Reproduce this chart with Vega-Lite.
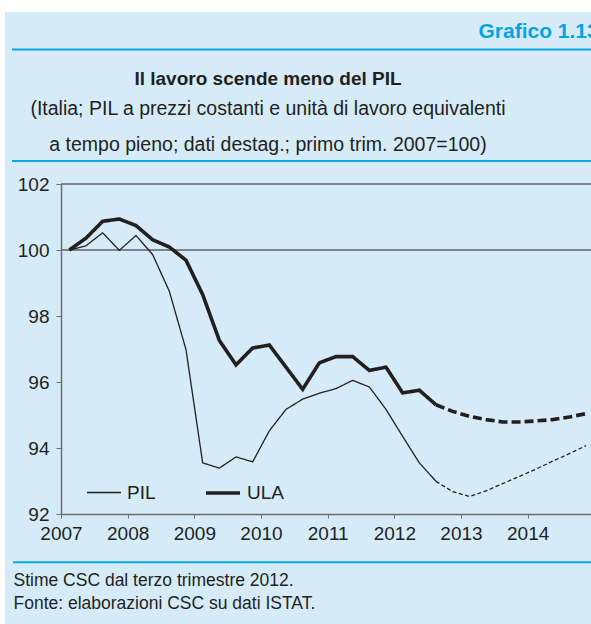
{
  "$schema": "https://vega.github.io/schema/vega-lite/v6.json",
  "width": 530,
  "height": 330,
  "autosize": {"type": "none"},
  "padding": {"left": 61, "top": 184, "right": 0, "bottom": 110},
  "background": "#ffffff",
  "config": {"view": {"stroke": null}, "font": "Liberation Sans"},
  "title": {
    "text": "Il lavoro scende meno del PIL",
    "subtitle": ["(Italia; PIL a prezzi costanti e unità di lavoro equivalenti", "a tempo pieno; dati destag.; primo trim. 2007=100)"],
    "anchor": "middle",
    "frame": "group",
    "dx": -58,
    "offset": -142,
    "font": "Liberation Sans",
    "fontSize": 19,
    "fontWeight": "bold",
    "color": "#231f20",
    "subtitleFont": "Liberation Sans",
    "subtitleFontSize": 19.5,
    "subtitleColor": "#231f20",
    "subtitleLineHeight": 36,
    "subtitlePadding": 11
  },
  "datasets": {
    "serie": [
      {"serie": "PIL", "tratto": "dati", "periodo": 2007.125, "valore": 100.0},
      {"serie": "PIL", "tratto": "dati", "periodo": 2007.375, "valore": 100.13},
      {"serie": "PIL", "tratto": "dati", "periodo": 2007.625, "valore": 100.52},
      {"serie": "PIL", "tratto": "dati", "periodo": 2007.875, "valore": 99.99},
      {"serie": "PIL", "tratto": "dati", "periodo": 2008.125, "valore": 100.44},
      {"serie": "PIL", "tratto": "dati", "periodo": 2008.375, "valore": 99.86},
      {"serie": "PIL", "tratto": "dati", "periodo": 2008.625, "valore": 98.75},
      {"serie": "PIL", "tratto": "dati", "periodo": 2008.875, "valore": 96.98},
      {"serie": "PIL", "tratto": "dati", "periodo": 2009.125, "valore": 93.55},
      {"serie": "PIL", "tratto": "dati", "periodo": 2009.375, "valore": 93.39},
      {"serie": "PIL", "tratto": "dati", "periodo": 2009.625, "valore": 93.73},
      {"serie": "PIL", "tratto": "dati", "periodo": 2009.875, "valore": 93.58},
      {"serie": "PIL", "tratto": "dati", "periodo": 2010.125, "valore": 94.52},
      {"serie": "PIL", "tratto": "dati", "periodo": 2010.375, "valore": 95.17},
      {"serie": "PIL", "tratto": "dati", "periodo": 2010.625, "valore": 95.48},
      {"serie": "PIL", "tratto": "dati", "periodo": 2010.875, "valore": 95.66},
      {"serie": "PIL", "tratto": "dati", "periodo": 2011.125, "valore": 95.80},
      {"serie": "PIL", "tratto": "dati", "periodo": 2011.375, "valore": 96.05},
      {"serie": "PIL", "tratto": "dati", "periodo": 2011.625, "valore": 95.85},
      {"serie": "PIL", "tratto": "dati", "periodo": 2011.875, "valore": 95.17},
      {"serie": "PIL", "tratto": "dati", "periodo": 2012.125, "valore": 94.35},
      {"serie": "PIL", "tratto": "dati", "periodo": 2012.375, "valore": 93.55},
      {"serie": "PIL", "tratto": "dati", "periodo": 2012.625, "valore": 92.99},
      {"serie": "PIL", "tratto": "stime", "periodo": 2012.625, "valore": 92.99},
      {"serie": "PIL", "tratto": "stime", "periodo": 2012.875, "valore": 92.68},
      {"serie": "PIL", "tratto": "stime", "periodo": 2013.125, "valore": 92.53},
      {"serie": "PIL", "tratto": "stime", "periodo": 2013.375, "valore": 92.70},
      {"serie": "PIL", "tratto": "stime", "periodo": 2013.625, "valore": 92.92},
      {"serie": "PIL", "tratto": "stime", "periodo": 2013.875, "valore": 93.14},
      {"serie": "PIL", "tratto": "stime", "periodo": 2014.125, "valore": 93.36},
      {"serie": "PIL", "tratto": "stime", "periodo": 2014.375, "valore": 93.60},
      {"serie": "PIL", "tratto": "stime", "periodo": 2014.625, "valore": 93.83},
      {"serie": "PIL", "tratto": "stime", "periodo": 2014.875, "valore": 94.07},
      {"serie": "ULA", "tratto": "dati", "periodo": 2007.125, "valore": 100.0},
      {"serie": "ULA", "tratto": "dati", "periodo": 2007.375, "valore": 100.36},
      {"serie": "ULA", "tratto": "dati", "periodo": 2007.625, "valore": 100.87},
      {"serie": "ULA", "tratto": "dati", "periodo": 2007.875, "valore": 100.94},
      {"serie": "ULA", "tratto": "dati", "periodo": 2008.125, "valore": 100.74},
      {"serie": "ULA", "tratto": "dati", "periodo": 2008.375, "valore": 100.31},
      {"serie": "ULA", "tratto": "dati", "periodo": 2008.625, "valore": 100.09},
      {"serie": "ULA", "tratto": "dati", "periodo": 2008.875, "valore": 99.69},
      {"serie": "ULA", "tratto": "dati", "periodo": 2009.125, "valore": 98.65},
      {"serie": "ULA", "tratto": "dati", "periodo": 2009.375, "valore": 97.26},
      {"serie": "ULA", "tratto": "dati", "periodo": 2009.625, "valore": 96.52},
      {"serie": "ULA", "tratto": "dati", "periodo": 2009.875, "valore": 97.03},
      {"serie": "ULA", "tratto": "dati", "periodo": 2010.125, "valore": 97.12},
      {"serie": "ULA", "tratto": "dati", "periodo": 2010.375, "valore": 96.45},
      {"serie": "ULA", "tratto": "dati", "periodo": 2010.625, "valore": 95.78},
      {"serie": "ULA", "tratto": "dati", "periodo": 2010.875, "valore": 96.58},
      {"serie": "ULA", "tratto": "dati", "periodo": 2011.125, "valore": 96.77},
      {"serie": "ULA", "tratto": "dati", "periodo": 2011.375, "valore": 96.77},
      {"serie": "ULA", "tratto": "dati", "periodo": 2011.625, "valore": 96.35},
      {"serie": "ULA", "tratto": "dati", "periodo": 2011.875, "valore": 96.45},
      {"serie": "ULA", "tratto": "dati", "periodo": 2012.125, "valore": 95.67},
      {"serie": "ULA", "tratto": "dati", "periodo": 2012.375, "valore": 95.75},
      {"serie": "ULA", "tratto": "dati", "periodo": 2012.625, "valore": 95.31},
      {"serie": "ULA", "tratto": "stime", "periodo": 2012.625, "valore": 95.31},
      {"serie": "ULA", "tratto": "stime", "periodo": 2012.875, "valore": 95.11},
      {"serie": "ULA", "tratto": "stime", "periodo": 2013.125, "valore": 94.96},
      {"serie": "ULA", "tratto": "stime", "periodo": 2013.375, "valore": 94.86},
      {"serie": "ULA", "tratto": "stime", "periodo": 2013.625, "valore": 94.79},
      {"serie": "ULA", "tratto": "stime", "periodo": 2013.875, "valore": 94.79},
      {"serie": "ULA", "tratto": "stime", "periodo": 2014.125, "valore": 94.82},
      {"serie": "ULA", "tratto": "stime", "periodo": 2014.375, "valore": 94.86},
      {"serie": "ULA", "tratto": "stime", "periodo": 2014.625, "valore": 94.94},
      {"serie": "ULA", "tratto": "stime", "periodo": 2014.875, "valore": 95.04}
    ],
    "riferimenti": [{"valore": 100}, {"valore": 102}]
  },
  "layer": [
    {
      "data": {"values": [{"elemento": "sfondo"}]},
      "mark": {"type": "rect", "fill": "#d5ebf8"},
      "encoding": {"x": {"value": -56}, "x2": {"value": 530}, "y": {"value": -172}, "y2": {"value": 440}}
    },
    {
      "data": {"values": [{"elemento": "linea1"}]},
      "mark": {"type": "rule", "stroke": "#0aa7e6", "strokeWidth": 2.2},
      "encoding": {"x": {"value": -49}, "x2": {"value": 530}, "y": {"value": -134.5}}
    },
    {
      "data": {"values": [{"elemento": "linea2"}]},
      "mark": {"type": "rule", "stroke": "#0aa7e6", "strokeWidth": 2},
      "encoding": {"x": {"value": -49}, "x2": {"value": 530}, "y": {"value": -23}}
    },
    {
      "data": {"values": [{"elemento": "linea3"}]},
      "mark": {"type": "rule", "stroke": "#0aa7e6", "strokeWidth": 2},
      "encoding": {"x": {"value": -48}, "x2": {"value": 530}, "y": {"value": 378.3}}
    },
    {
      "data": {"name": "riferimenti"},
      "mark": {"type": "rule", "stroke": "#231f20", "strokeWidth": 1.2},
      "encoding": {"y": {"field": "valore", "type": "quantitative"}}
    },
    {
      "data": {"name": "serie"},
      "transform": [{"filter": "datum.serie === 'PIL'"}],
      "mark": {"type": "line", "color": "#231f20"},
      "encoding": {
        "x": {
          "field": "periodo", "type": "quantitative",
          "scale": {"domain": [2007, 2014.95], "nice": false, "zero": false},
          "axis": {
            "values": [2007, 2008, 2009, 2010, 2011, 2012, 2013, 2014],
            "format": "d",
            "grid": false,
            "labelFont": "Liberation Sans", "labelFontSize": 19, "labelColor": "#231f20",
            "labelPadding": 6.5, "labelFlush": false, "labelOverlap": false,
            "tickSize": 4, "tickColor": "#6d6e71", "domainColor": "#6d6e71", "domainWidth": 1.5,
            "title": ["Stime CSC dal terzo trimestre 2012.", "Fonte: elaborazioni CSC su dati ISTAT."],
            "titleFont": "Liberation Sans", "titleFontSize": 17.5, "titleFontWeight": "normal", "titleColor": "#231f20",
            "titleAnchor": "start", "titleAlign": "left", "titleBaseline": "alphabetic",
            "titleX": -48, "titleY": 71, "titleLineHeight": 23,
            "zindex": 1
          }
        },
        "y": {
          "field": "valore", "type": "quantitative",
          "scale": {"domain": [92, 102], "nice": false, "zero": false},
          "axis": {
            "values": [92, 94, 96, 98, 100, 102],
            "grid": false,
            "labelFont": "Liberation Sans", "labelFontSize": 19, "labelColor": "#231f20",
            "labelPadding": 7,
            "tickSize": 5, "tickColor": "#6d6e71", "domainColor": "#6d6e71", "domainWidth": 1.5,
            "title": "Grafico 1.13",
            "titleFont": "Liberation Sans", "titleFontSize": 21, "titleFontWeight": "bold", "titleColor": "#0aa3e0",
            "titleAngle": 0, "titleAlign": "left", "titleBaseline": "alphabetic",
            "titleX": 417, "titleY": -146.7,
            "zindex": 1
          }
        },
        "strokeWidth": {
          "field": "serie", "type": "nominal",
          "scale": {"domain": ["PIL", "ULA"], "range": [1.3, 3.6]},
          "legend": {
            "orient": "none", "legendX": 25, "legendY": 290, "direction": "horizontal",
            "title": null, "symbolType": "stroke", "symbolSize": 1156,
            "symbolStrokeColor": "#231f20",
            "labelFont": "Liberation Sans", "labelFontSize": 19, "labelColor": "#231f20",
            "labelOffset": 5, "columnPadding": 42, "zindex": 1
          }
        },
        "strokeDash": {
          "field": "tratto", "type": "nominal",
          "scale": {"domain": ["dati", "stime"], "range": [[1, 0], [4, 2.5]]},
          "legend": null
        }
      }
    },
    {
      "data": {"name": "serie"},
      "transform": [{"filter": "datum.serie === 'ULA'"}],
      "mark": {"type": "line", "color": "#231f20"},
      "encoding": {
        "x": {"field": "periodo", "type": "quantitative"},
        "y": {"field": "valore", "type": "quantitative"},
        "strokeWidth": {"field": "serie", "type": "nominal"},
        "strokeDash": {
          "field": "tratto", "type": "nominal",
          "scale": {"domain": ["dati", "stime"], "range": [[1, 0], [9, 4]]},
          "legend": null
        }
      }
    }
  ],
  "resolve": {"scale": {"strokeDash": "independent"}}
}
